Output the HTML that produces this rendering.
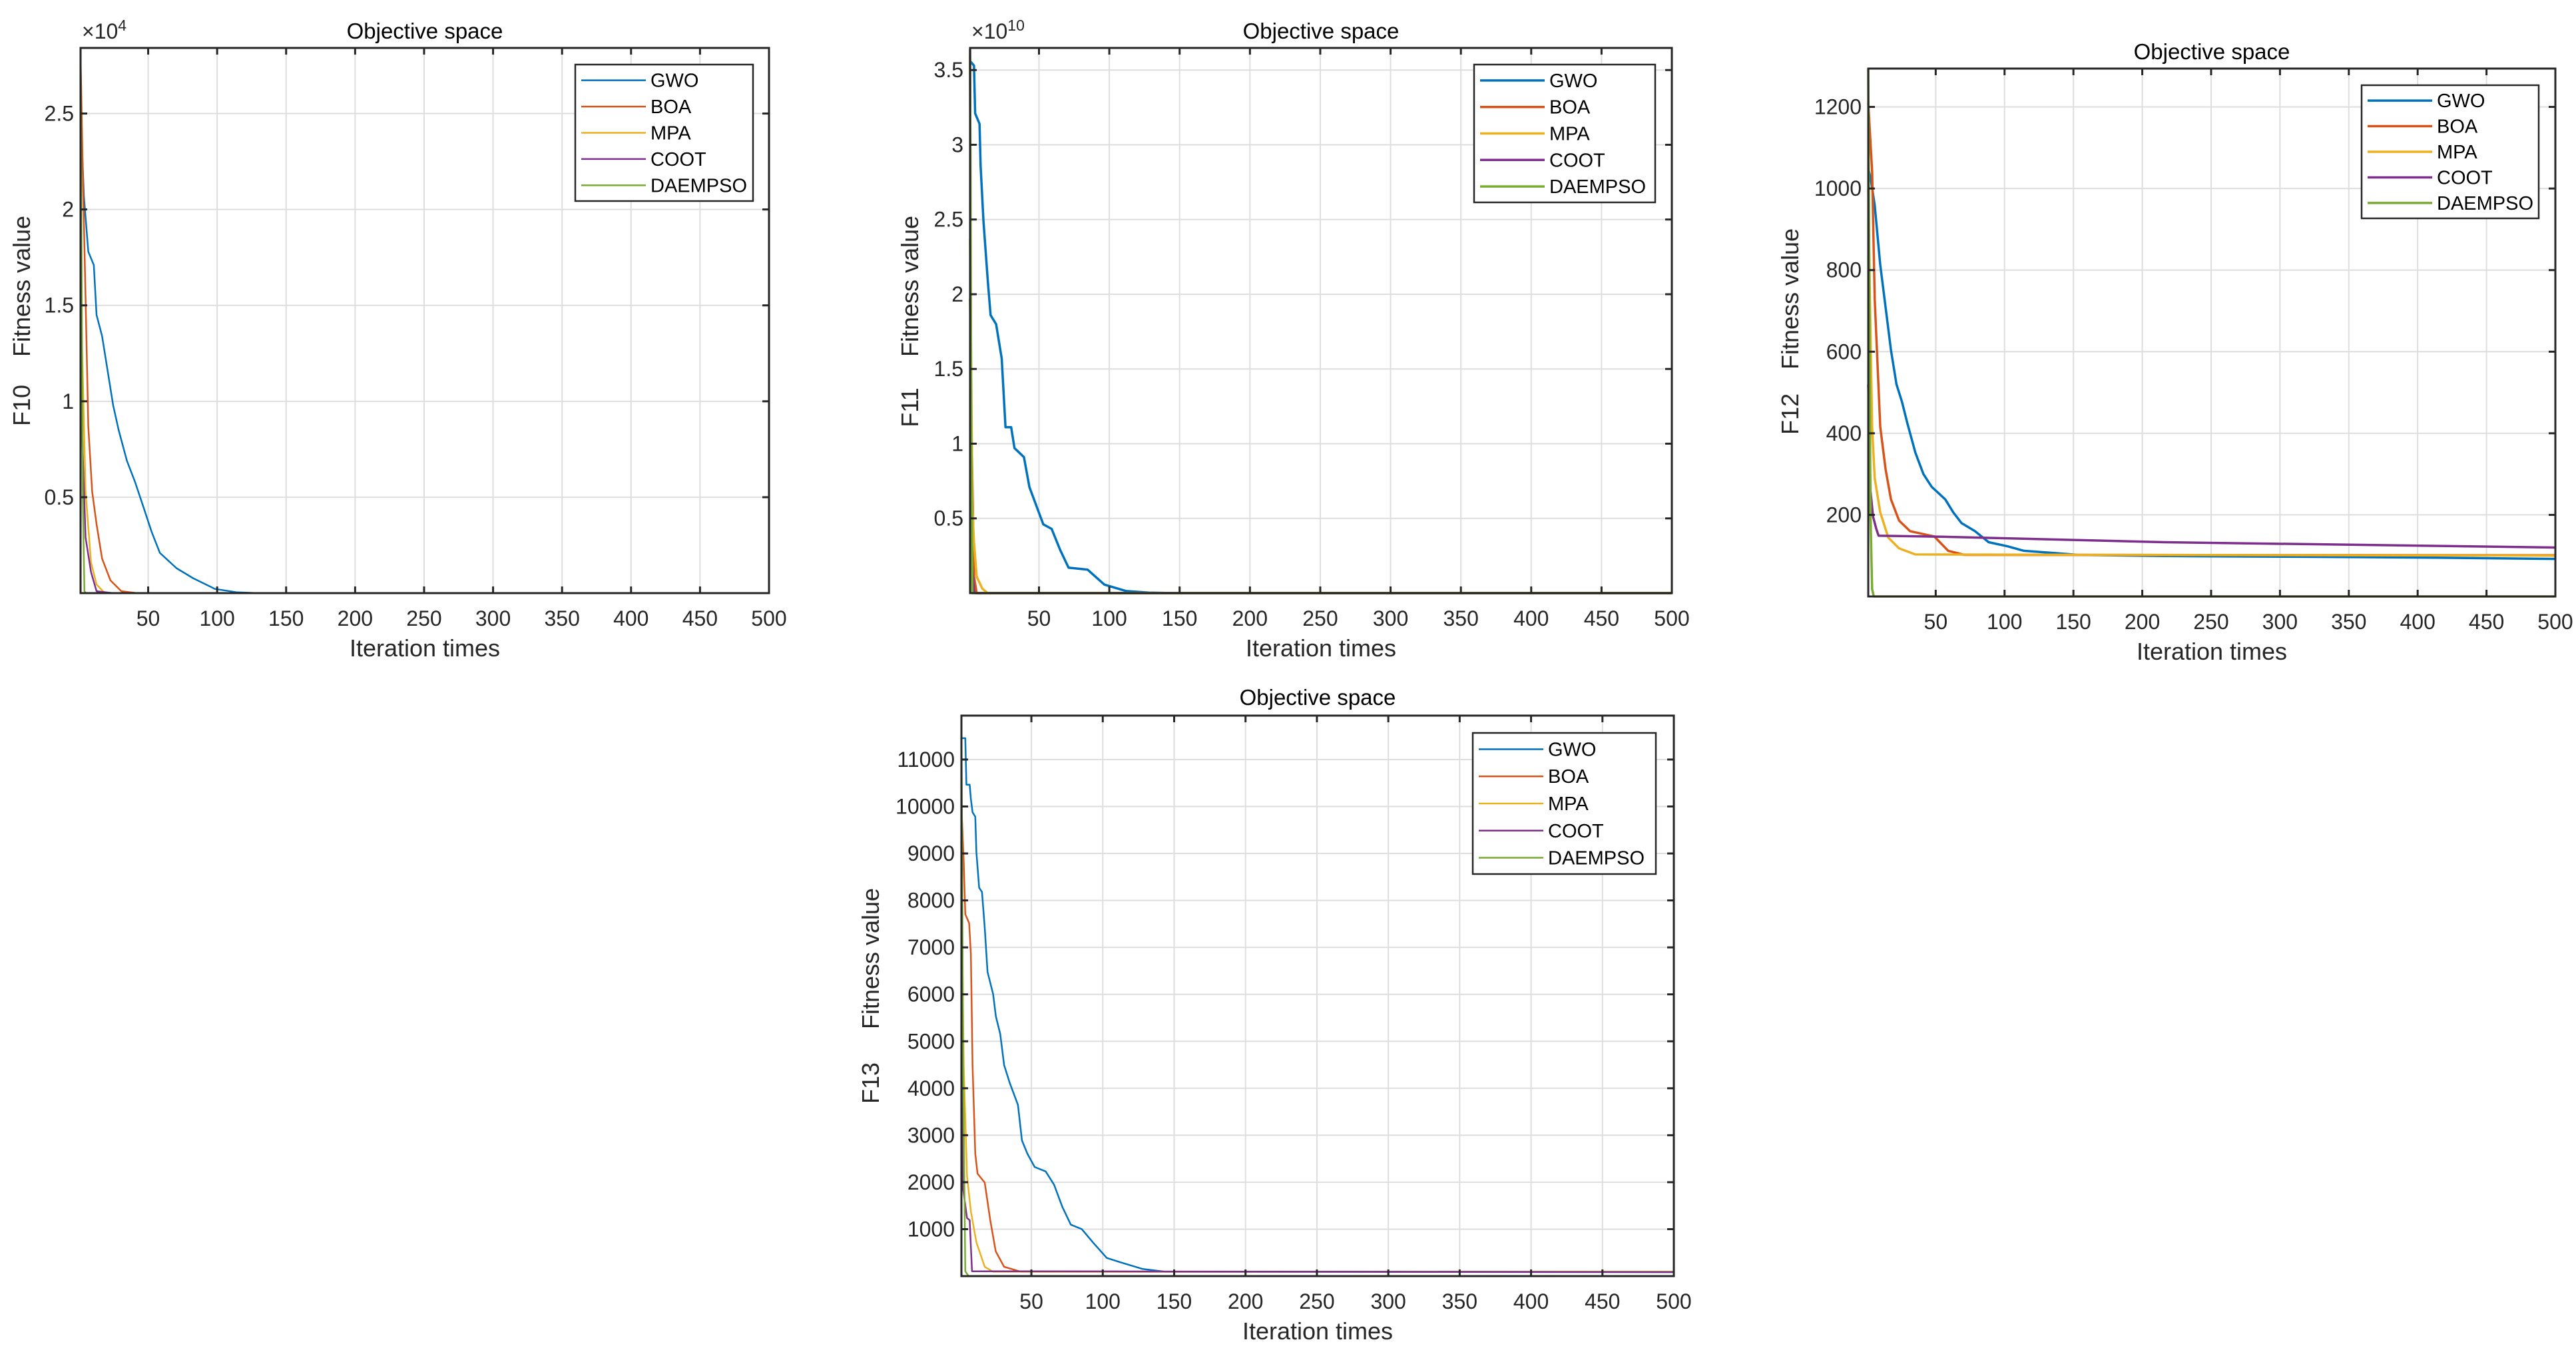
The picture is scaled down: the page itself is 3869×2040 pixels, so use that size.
<!DOCTYPE html>
<html><head><meta charset="utf-8">
<style>
html,body{margin:0;padding:0;background:#fff;}
svg{display:block;font-family:"Liberation Sans",Arial,sans-serif;}
</style></head>
<body>
<svg id="fig" width="3869" height="2040" viewBox="0 0 3869 2040" xmlns="http://www.w3.org/2000/svg"></svg>
<script>
// ---------- data (iteration, value) ----------
// F10 (x1e4)
const f10_gwo_x=[1,3.4,6.6,10.6,12.6,16.6,20.6,24.6,28.6,34.6,40.5,46.5,52.5,58.5,70.5,82.5,98.5,114.5,130,500];
const f10_gwo_y=[2.52,2.07,1.78,1.71,1.45,1.34,1.16,0.98,0.85,0.69,0.58,0.45,0.32,0.21,0.13,0.078,0.022,0.004,0,0];
const f10_boa_x=[1,2.6,4.6,6.6,9.4,12.6,16.6,22.6,30.6,42,500];
const f10_boa_y=[2.8,2.2,1.54,0.87,0.53,0.36,0.18,0.067,0.01,0,0];
const f10_mpa_x=[1,2,4.6,8.6,12.6,18.6,500];
const f10_mpa_y=[1.8,1.31,0.53,0.16,0.045,0,0];
const f10_coot_x=[1,2.6,4.6,8.6,12.6,24.6,500];
const f10_coot_y=[1.2,0.73,0.29,0.11,0.01,0,0];
const f10_dae_x=[1,2.6,3.8,5,500];
const f10_dae_y=[2.84,0.51,0.01,0,0];
// F11 (x1e10)
const f11_gwo_x=[1,3.8,4.6,7.7,8.5,10.5,13.6,15.6,19.5,23.5,26.2,30.2,32.6,39.3,43.2,49.1,53.1,59,65,71,84.6,96.5,112,128,147,500];
const f11_gwo_y=[3.56,3.53,3.21,3.14,2.86,2.49,2.09,1.86,1.8,1.57,1.11,1.11,0.97,0.91,0.71,0.56,0.46,0.43,0.29,0.17,0.157,0.057,0.014,0.003,0,0];
const f11_boa_x=[1,1.8,3.8,5.7,500];
const f11_boa_y=[1.97,1.2,0.11,0,0];
const f11_mpa_x=[1,2.6,3.8,5.7,9.7,13.6,500];
const f11_mpa_y=[2.37,0.57,0.34,0.11,0.03,0,0];
const f11_coot_x=[1,1.8,3.8,5,500];
const f11_coot_y=[3.64,0.26,0.01,0,0];
const f11_dae_x=[1,1.8,2.6,500];
const f11_dae_y=[3.6,1.1,0,0];
// F12
const f12_gwo_x=[1,2.9,5.7,9.7,13.6,17.5,21.5,25.4,29.3,35.2,41.1,47,56.9,62.8,68.7,78.5,88.4,102,114,137.6,153,216,334,413,500];
const f12_gwo_y=[1050,1022,959,813,708,604,520,478,426,353,300,269,238,206,180,160,133,123,112,106,102,99,97,95,92];
const f12_boa_x=[1,3.8,5.7,9.7,13.6,17.5,23.4,31.3,49,53,59,70.7,500];
const f12_boa_y=[1210,1042,729,416,311,238,186,160,147,133,112,102,101];
const f12_mpa_x=[1,2.2,3.8,5.7,9.7,15.6,23.4,35.2,500];
const f12_mpa_y=[1000,729,416,290,206,144,118,103,100];
const f12_coot_x=[1,2.6,4.5,6.9,8.5,59,216,500];
const f12_coot_y=[520,259,196,165,149,146,133,120];
const f12_dae_x=[1,2.6,3.8,5,500];
const f12_dae_y=[1294,206,18,0,0];
// F13
const f13_gwo_x=[1,3.7,4.5,6.8,7.6,8.8,10.7,11.5,13.4,15.4,17.3,19.3,23.2,25.1,28.2,30.9,34.8,40.6,43.4,47.2,52.3,60,65.9,71.7,77.6,85.3,93.1,102.8,112.5,128,143.6,500];
const f13_gwo_y=[11454,11454,10463,10463,10160,9877,9783,9027,8272,8178,7422,6478,6006,5534,5156,4495,4117,3645,2890,2606,2323,2229,1945,1473,1095,1001,718,387,293,151,94,85];
const f13_boa_x=[1,2.6,3.7,6.4,7.6,8.8,10.7,12.3,17.3,21.2,25,30.9,42.6,500];
const f13_boa_y=[10019,8839,7705,7517,6855,4495,2606,2181,1992,1190,529,198,94,94];
const f13_mpa_x=[1,2.6,4.9,7.6,11.5,17.3,23.2,500];
const f13_mpa_y=[8461,4495,2134,1379,718,198,94,94];
const f13_coot_x=[1,2.2,4.9,6.8,8.4,500];
const f13_coot_y=[8461,1851,1237,1190,104,85];
const f13_dae_x=[1,2.2,3.7,6,500];
const f13_dae_y=[11930,4495,104,0,0];

const xTicks=[50,100,150,200,250,300,350,400,450,500];
const names=["GWO","BOA","MPA","COOT","DAEMPSO"];
const colors=["#0072BD","#D95319","#EDB120","#7E2F8E","#77AC30"];

const panels=[
 {id:"f10",L:121,R:1155,T:72,B:891,ymax:2.842,yt:[0.5,1,1.5,2,2.5],ytl:["0.5","1","1.5","2","2.5"],exp:"4",lw:2.5,
  tx:638,ty:46,lab:"F10",lx:33,fy:430,fny:609,leg:[864,97,1131,302],
  s:[[f10_gwo_x,f10_gwo_y],[f10_boa_x,f10_boa_y],[f10_mpa_x,f10_mpa_y],[f10_coot_x,f10_coot_y],[f10_dae_x,f10_dae_y]]},
 {id:"f11",L:1457,R:2511,T:72,B:891,ymax:3.648,yt:[0.5,1,1.5,2,2.5,3,3.5],ytl:["0.5","1","1.5","2","2.5","3","3.5"],exp:"10",lw:3.5,
  tx:1984,ty:46,lab:"F11",lx:1367,fy:430,fny:612,leg:[2214,97,2486,304],
  s:[[f11_gwo_x,f11_gwo_y],[f11_boa_x,f11_boa_y],[f11_mpa_x,f11_mpa_y],[f11_coot_x,f11_coot_y],[f11_dae_x,f11_dae_y]]},
 {id:"f12",L:2806,R:3838,T:103,B:896,ymax:1294,yt:[200,400,600,800,1000,1200],ytl:["200","400","600","800","1000","1200"],exp:null,lw:3.5,
  tx:3322,ty:77,lab:"F12",lx:2689,fy:449,fny:622,leg:[3547,128,3813,328],
  s:[[f12_gwo_x,f12_gwo_y],[f12_boa_x,f12_boa_y],[f12_mpa_x,f12_mpa_y],[f12_coot_x,f12_coot_y],[f12_dae_x,f12_dae_y]]},
 {id:"f13",L:1444,R:2514,T:1075,B:1917,ymax:11935,yt:[1000,2000,3000,4000,5000,6000,7000,8000,9000,10000,11000],
  ytl:["1000","2000","3000","4000","5000","6000","7000","8000","9000","10000","11000"],exp:null,lw:2.5,
  tx:1979,ty:1047,lab:"F13",lx:1308,fy:1440,fny:1627,leg:[2212,1101,2487,1313],
  s:[[f13_gwo_x,f13_gwo_y],[f13_boa_x,f13_boa_y],[f13_mpa_x,f13_mpa_y],[f13_coot_x,f13_coot_y],[f13_dae_x,f13_dae_y]]}
];

const NS="http://www.w3.org/2000/svg";
const svg=document.getElementById("fig");
function mk(tag,attrs,parent,text){
  const e=document.createElementNS(NS,tag);
  for(const k in attrs) e.setAttribute(k,attrs[k]);
  if(text!==undefined) e.textContent=text;
  parent.appendChild(e); return e;
}

panels.forEach(p=>{
  const g=mk("g",{},svg);
  
  
  const xs=v=>p.L+(v-1)/(500-1)*(p.R-p.L);
  const ys=v=>p.B-v/p.ymax*(p.B-p.T);
  const grid=mk("g",{stroke:"#dedede","stroke-width":2},g);
  
  
  xTicks.forEach(t=>mk("line",{x1:xs(t),x2:xs(t),y1:p.T,y2:p.B},grid));
  p.yt.forEach(t=>mk("line",{x1:p.L,x2:p.R,y1:ys(t),y2:ys(t)},grid));
  p.s.forEach((s,i)=>{
    let d="";
    s[0].forEach((x,j)=>{d+=(j?"L":"M")+xs(x).toFixed(1)+" "+ys(s[1][j]).toFixed(1);});
    const path=mk("path",{d:d,fill:"none",stroke:colors[i],"stroke-width":p.lw,"stroke-linejoin":"round"},g);
    
    
  });
  const ax=mk("g",{stroke:"#262626","stroke-width":3,fill:"none"},g);
  
  
  mk("rect",{x:p.L,y:p.T,width:p.R-p.L,height:p.B-p.T},ax);
  xTicks.forEach(t=>{mk("line",{x1:xs(t),x2:xs(t),y1:p.B,y2:p.B-10},ax);mk("line",{x1:xs(t),x2:xs(t),y1:p.T,y2:p.T+10},ax);});
  p.yt.forEach(t=>{mk("line",{x1:p.L,x2:p.L+10,y1:ys(t),y2:ys(t)},ax);mk("line",{x1:p.R,x2:p.R-10,y1:ys(t),y2:ys(t)},ax);});
  xTicks.forEach(t=>{
    const tl=mk("text",{x:xs(t),y:p.B+49,"font-size":32,"text-anchor":"middle",fill:"#262626"},g,String(t));
    
    
  });
  p.yt.forEach((t,i)=>{
    const tl=mk("text",{x:p.L-10,y:ys(t)+11,"font-size":32,"text-anchor":"end",fill:"#262626"},g,p.ytl[i]);
    
    
  });
  if(p.exp){
    const ex=mk("text",{x:p.L+2,y:p.T-14,"font-size":32,fill:"#262626"},g);
    
    
    ex.textContent="×10";
    mk("tspan",{dy:-12,"font-size":23},ex,p.exp);
  }
  const ti=mk("text",{x:p.tx,y:p.ty+12,"font-size":33,"text-anchor":"middle",fill:"#000"},g,"Objective space");
  
  
  const xl=mk("text",{x:(p.L+p.R)/2,y:p.B+95,"font-size":36,"text-anchor":"middle",fill:"#262626"},g,"Iteration times");
  
  
  const yl=mk("text",{x:0,y:0,"font-size":36,"text-anchor":"middle",fill:"#262626",transform:`translate(${p.lx+12},${p.fy}) rotate(-90)`},g,"Fitness value");
  
  
  const yl2=mk("text",{x:0,y:0,"font-size":36,"text-anchor":"middle",fill:"#262626",transform:`translate(${p.lx+12},${p.fny}) rotate(-90)`},g,p.lab);
  
  
  const [a,b,c,d]=p.leg;
  const lg=mk("g",{},g);
  
  
  mk("rect",{x:a,y:b,width:c-a,height:d-b,fill:"#fff",stroke:"#262626","stroke-width":2.5},lg);
  const step=(d-b)/5.2;
  names.forEach((n,i)=>{
    const yy=b+step*(0.6+i);
    const en=mk("g",{},lg);
    
    
    mk("line",{x1:a+9,x2:a+106,y1:yy,y2:yy,stroke:colors[i],"stroke-width":p.lw},en);
    mk("text",{x:a+113,y:yy+10,"font-size":29,fill:"#000"},en,n);
  });
});
</script>
</body></html>
